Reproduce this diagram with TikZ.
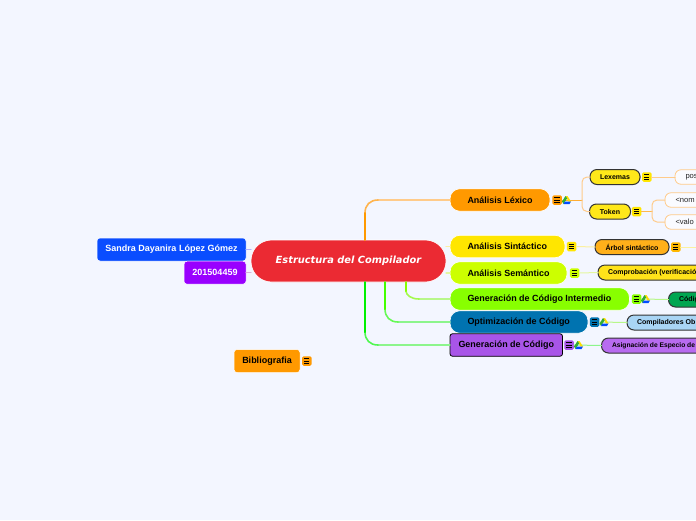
\documentclass[tikz,border=0pt]{standalone}
\usepackage{fontspec}
\setmainfont{Liberation Sans}
\newfontfamily\dejavu{DejaVu Sans}
\definecolor{bgc}{HTML}{F3F6FF}
\definecolor{cOrange}{HTML}{FF9900}
\definecolor{cYellow}{HTML}{FFE600}
\definecolor{cLime}{HTML}{CCFF00}
\definecolor{cGreen}{HTML}{88FF00}
\definecolor{cBlue}{HTML}{0073B0}
\definecolor{cPurple}{HTML}{A855E8}
\definecolor{lOrange}{HTML}{FFCB8A}
\definecolor{mOrange}{HTML}{FFB44D}
\definecolor{lYellow}{HTML}{FBF0A0}
\definecolor{lLime}{HTML}{E4F7A0}
\definecolor{lGreen}{HTML}{B8F78A}
\definecolor{lGreenB}{HTML}{8CF58C}
\definecolor{mGreenA}{HTML}{A4F94E}
\definecolor{sGreenB}{HTML}{44FF00}
\definecolor{mGreenB}{HTML}{66FA55}
\definecolor{sGreenC}{HTML}{00F000}
\definecolor{mGreenC}{HTML}{50F850}
\newcommand{\lbox}[3]{\makebox[#1pt][l]{\hspace{#2pt}#3}}
\tikzset{
  x=1pt,y=1pt,
  every node/.style={inner sep=0pt,outer sep=0pt},
  main/.style={anchor=west,rounded corners=10pt,minimum height=22.5pt,draw=white,line width=.6pt,font=\bfseries\fontsize{8.95}{10}\selectfont,text=black},
  leftbox/.style={rounded corners=3pt,minimum height=23pt,draw=white,line width=.5pt,font=\bfseries\fontsize{9}{10}\selectfont},
  sub/.style={anchor=west,rounded corners=7pt,minimum height=15pt,draw=black!80,line width=1pt,font=\bfseries\fontsize{7}{8}\selectfont,text=black},
  leaf/.style={anchor=west,rounded corners=6pt,minimum height=14.5pt,fill=bgc!40!white,draw=lOrange,line width=.8pt,font=\fontsize{7.6}{8}\selectfont,text=black!85},
  tag/.style={minimum size=9.5pt,rounded corners=1.5pt,fill=#1,
    path picture={\draw[black,line width=.7pt]
      ([xshift=-2.6pt,yshift=2.2pt]path picture bounding box.center)--++(5.2pt,0)
      ([xshift=-2.6pt]path picture bounding box.center)--++(5.2pt,0)
      ([xshift=-2.6pt,yshift=-2.2pt]path picture bounding box.center)--++(5.2pt,0);}},
  wire/.style={line width=#1,line cap=round},
  wire/.default=1pt,
  pics/gdrive/.style={code={
    \fill[yellow!80!orange] (-1,4)--(1,4)--(4.5,-1.5)--(2,-1.5)--cycle;
    \fill[green!60!black!80] (-1,4)--(-4.5,-1.5)--(-3,-4)--(0.6,1.6)--cycle;
    \fill[blue!70!cyan] (-3,-4)--(3,-4)--(4.5,-1.5)--(-1.6,-1.5)--cycle;
  }}
}
\begin{document}
\begin{tikzpicture}
\useasboundingbox (0,0) rectangle (696,-520);
\fill[bgc] (0,0) rectangle (696,-520);

% ---- nodes
\node[rounded corners=20.5pt,fill={rgb,255:red,235;green,42;blue,51},draw=white,line width=.7pt,minimum width=195pt,minimum height=42pt,text=white,font=\dejavu\bfseries\itshape\fontsize{9.85}{11}\selectfont] (root) at (348.5,-261) {Estructura del Compilador};

\node[leftbox,fill={rgb,255:red,10;green,77;blue,255},text=white,minimum width=149pt] (autor) at (171.5,-249.5) {Sandra Dayanira López Gómez};
\node[leftbox,fill={rgb,255:red,153;green,0;blue,255},text=white,minimum width=62pt] (carne) at (215,-272.7) {201504459};
\node[leftbox,fill=cOrange,text=black,minimum width=66pt] (biblio) at (267,-361) {Bibliografia};
\node[tag=cOrange] (tb) at (306.8,-361) {};

\node[main,fill=cOrange] (lex) at (450,-200) {\lbox{100}{17.5}{Análisis Léxico}};
\node[main,fill=cYellow] (sin) at (450,-246.5) {\lbox{115}{17.5}{Análisis Sintáctico}};
\node[main,fill=cLime] (sem) at (450,-273) {\lbox{117}{17.5}{Análisis Semántico}};
\node[main,fill=cGreen] (inter) at (450,-299) {\lbox{179.5}{17.5}{Generación de Código Intermedio}};
\node[main,fill=cBlue] (opt) at (450,-322) {\lbox{138}{17.5}{Optimización de Código}};
\node[main,fill=cPurple,draw=black,line width=.8pt,rounded corners=2.5pt] (gen) at (450,-345) {\lbox{112.5}{8.5}{Generación de Código}};

\node[tag=cOrange] (tlex) at (557,-200) {};
\node[tag=cYellow] (tsin) at (571.5,-246.5) {};
\node[tag=cLime] (tsem) at (574.5,-273) {};
\node[tag=cGreen] (tinter) at (636.5,-299) {};
\node[tag=cBlue] (topt) at (594.5,-322) {};
\node[tag=cPurple] (tgen) at (569,-345) {};

\node[sub,fill={rgb,255:red,255;green,232;blue,26},minimum width=50pt] (lexemas) at (590,-177) {Lexemas};
\node[sub,fill={rgb,255:red,255;green,232;blue,26},minimum width=41pt] (token) at (589.5,-211.5) {Token};
\node[tag=cYellow] (tlexemas) at (646.8,-177) {};
\node[tag=cYellow] (ttoken) at (636.5,-211.5) {};
\node[sub,fill={rgb,255:red,255;green,176;blue,26},minimum width=74pt] (arbol) at (595,-247) {Árbol sintáctico};
\node[tag=cOrange!70!yellow] (tarbol) at (675.8,-247) {};

\node[sub,fill={rgb,255:red,255;green,227;blue,26}] (comp) at (598,-272.5) {\lbox{125}{10}{Comprobación (verificación}};
\node[sub,fill={rgb,255:red,0;green,166;blue,81}] (cod) at (668.5,-299.5) {\lbox{60}{10.5}{Códig}};
\node[sub,fill={rgb,255:red,169;green,213;blue,245}] (obj) at (627,-322.5) {\lbox{100}{10}{Compiladores Ob}};
\node[sub,fill={rgb,255:red,184;green,107;blue,240},font=\bfseries\fontsize{6.7}{8}\selectfont] (asig) at (601.5,-345.5) {\lbox{125}{10.5}{Asignación de Especio de}};

\node[leaf] (pos) at (675,-177) {\lbox{40}{10.5}{pos}};
\node[leaf] (nom) at (665,-200) {\lbox{50}{10.5}{<nom}};
\node[leaf] (val) at (665,-222) {\lbox{50}{10.5}{<valo}};

\coordinate (ledge) at (697,-247);
\coordinate (forkA) at (582,-200);
\coordinate (forkB) at (652,-211.5);
\coordinate (upL) at (365,-240);
\coordinate (dnA) at (406,-282);
\coordinate (dnB) at (385,-282);
\coordinate (dnC) at (365,-282);

% ---- connectors (wires end at the node borders)
\draw[wire=1.2pt,lOrange] (378,-200) -- (lex.west);
\draw[wire=1.6pt,mOrange] (365,-213) .. controls (365,-205) and (370,-200) .. (378,-200);
\draw[wire=2pt,cOrange] (upL) -- (365,-213);

\draw[wire=1.2pt,lGreen] (419,-299) -- (inter.west);
\draw[wire=1.6pt,mGreenA] (406,-291) .. controls (406,-295) and (411,-299) .. (419,-299);
\draw[wire=2pt,cGreen] (dnA) -- (406,-291);

\draw[wire=1.2pt,lGreenB] (398,-322) -- (opt.west);
\draw[wire=1.6pt,mGreenB] (385,-309) .. controls (385,-317) and (390,-322) .. (398,-322);
\draw[wire=2pt,sGreenB] (dnB) -- (385,-309);

\draw[wire=1.2pt,lGreenB] (378,-345) -- (gen.west);
\draw[wire=1.6pt,mGreenC] (365,-332) .. controls (365,-340) and (370,-345) .. (378,-345);
\draw[wire=2pt,sGreenC] (dnC) -- (365,-332);

\draw[wire=1.2pt,lYellow] (root.east |- sin.west) -- (sin.west);
\draw[wire=1.2pt,lLime] (root.east |- sem.west) -- (sem.west);
\draw[wire=1.2pt,blue!30] (autor.east) -- (root.west |- autor.east);
\draw[wire=1.2pt,violet!30] (carne.east) -- (root.west |- carne.east);

\draw[wire=1pt,cOrange!80] (tlex.east) -- (forkA);
\draw[wire=1pt,lOrange,rounded corners=5pt] (forkA) |- (lexemas.west);
\draw[wire=1pt,lOrange,rounded corners=5pt] (forkA) |- (token.west);
\draw[wire=1pt,lOrange] (tlexemas.east) -- (pos.west);
\draw[wire=1pt,cOrange!70] (ttoken.east) -- (forkB);
\draw[wire=1pt,lOrange,rounded corners=5pt] (forkB) |- (nom.west);
\draw[wire=1pt,lOrange,rounded corners=5pt] (forkB) |- (val.west);
\draw[wire=1pt,lYellow] (tsin.east) -- (arbol.west);
\draw[wire=1pt,lYellow] (tarbol.east) -- (ledge);
\draw[wire=1pt,lLime] (tsem.east) -- (comp.west);
\draw[wire=1pt,lGreen] (tinter.east) -- (cod.west);
\draw[wire=1pt,lGreen] (topt.east) -- (obj.west);
\draw[wire=1pt,lGreenB] (tgen.east) -- (asig.west);

% ---- drive icons
\pic at (566.5,-200) {gdrive};
\pic at (645.5,-299) {gdrive};
\pic at (604,-322) {gdrive};
\pic at (578.5,-345) {gdrive};
\end{tikzpicture}
\end{document}
